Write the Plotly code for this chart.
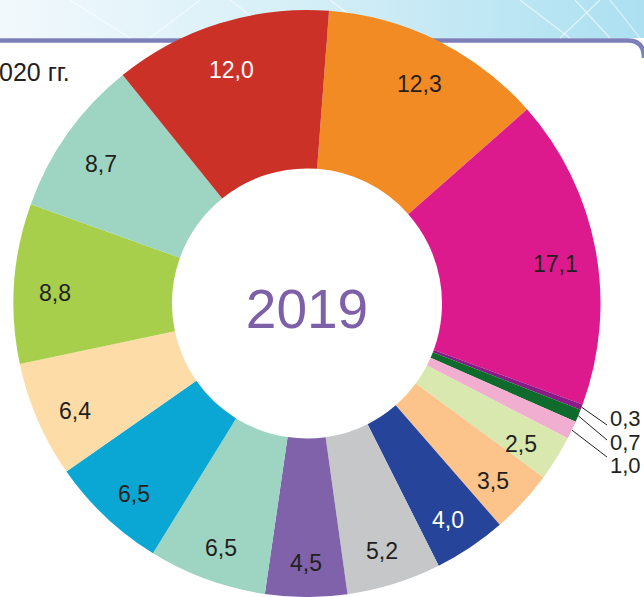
import numpy as np
import plotly.graph_objects as go

# 2019 shares, %, clockwise from the orange slice
values = [12.3, 17.1, 0.3, 0.7, 1.0, 2.5, 3.5, 4.0, 5.2, 4.5, 6.5, 6.5, 6.4, 8.8, 8.7, 12.0]
colors = ['#f28b24', '#dc1a8e', '#8a1a88', '#0f6b2b', '#f2aed0', '#d9e8ae', '#fcc48a', '#26449a',
          '#c6c7c9', '#7f62aa', '#9dd4c2', '#0ba7d4', '#fedca8', '#a7cf4b', '#9dd4c2', '#cc3128']
text_colors = ['#231f20'] * 16
text_colors[7] = 'white'
text_colors[15] = 'white'
small = [2, 3, 4]  # labelled outside the ring
year = '2019'
caption = '020 гг.'

W, H = 644, 597
rotation = 4.3
cx, top = 307, 10
R = (H - top) / 2
cy = top + R
FONT = 'Arial, Liberation Sans'

labels_txt = [f'{v:.1f}'.replace('.', ',') for v in values]

fig = go.Figure()

# header band
fig.add_trace(go.Scatter(x=[0, W, W, 0, 0], y=[0, 0, 38, 38, 0], mode='lines', fill='toself',
                         line=dict(width=0),
                         fillgradient=dict(type='horizontal',
                                           colorscale=[[0, '#f2f9fc'], [0.5, '#d3eef7'], [1, '#ace0f1']]),
                         hoverinfo='skip', showlegend=False))
for x0, x1 in [(70, 130), (200, 150), (230, 280), (330, 380), (520, 570), (600, 560), (575, 610), (610, 640)]:
    fig.add_trace(go.Scatter(x=[x0, x1], y=[0, 38], mode='lines',
                             line=dict(color='rgba(255,255,255,0.6)', width=1.2),
                             hoverinfo='skip', showlegend=False))
fig.add_shape(type='path', path=f'M 0 40.5 L 628 40.5 Q {W} 40.5 {W} 58',
              line=dict(color='#7b80b8', width=4.5), xref='x', yref='y', layer='below')

fig.add_trace(go.Pie(
    values=values, textinfo='none', sort=False, direction='clockwise',
    rotation=rotation, hole=0.46,
    marker=dict(colors=colors, line=dict(width=0)),
    title=dict(text=year, position='middle center',
               font=dict(size=55, color='#7e60a8', family=FONT)),
    domain=dict(x=[(cx - R) / W, (cx + R) / W], y=[0, 1 - top / H]),
    hoverinfo='skip', showlegend=False,
))

cum = np.cumsum([0] + values)
mid = np.radians(rotation + 360 * (cum[:-1] + np.array(values) / 2) / cum[-1])

# value labels inside the ring
r_lab, dy_lab = 0.86 * R, 7
for i, t in enumerate(labels_txt):
    if i in small:
        continue
    fig.add_annotation(x=cx + r_lab * np.sin(mid[i]), y=cy + dy_lab - r_lab * np.cos(mid[i]),
                       text=t, showarrow=False, xref='x', yref='y',
                       font=dict(size=23, color=text_colors[i], family=FONT))

# leader lines + labels for the thin slices
end_y = [425, 440, 457]
lab_y = [418, 442, 465]
for k, i in enumerate(small):
    fig.add_trace(go.Scatter(x=[cx + R * np.sin(mid[i]), 607], y=[cy - R * np.cos(mid[i]), end_y[k]],
                             mode='lines', line=dict(color='#231f20', width=1),
                             hoverinfo='skip', showlegend=False))
    fig.add_annotation(x=608, y=lab_y[k], text=labels_txt[i], showarrow=False, xanchor='left',
                       xref='x', yref='y', font=dict(size=22, color='#231f20', family=FONT))

fig.add_annotation(x=0, y=83, text=caption, showarrow=False, xanchor='left', yanchor='bottom',
                   xref='x', yref='y', xshift=-3, yshift=-5,
                   font=dict(size=25, color='#231f20', family=FONT))

fig.update_xaxes(range=[0, W], visible=False, fixedrange=True)
fig.update_yaxes(range=[H, 0], visible=False, fixedrange=True)
fig.update_layout(width=W, height=H, margin=dict(l=0, r=0, t=0, b=0),
                  paper_bgcolor='white', plot_bgcolor='white')

fig.write_html('out.html', config={'displayModeBar': False},
               post_script="document.body.style.margin='0px';")
